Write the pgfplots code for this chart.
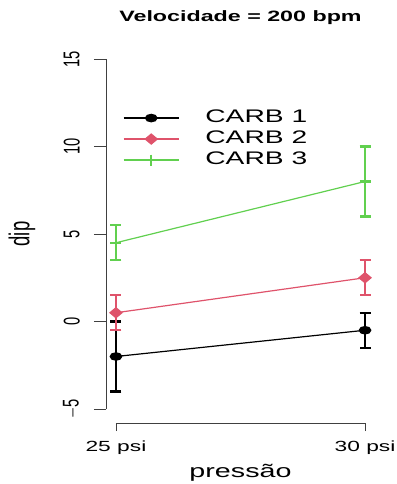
\documentclass[border=0pt]{standalone}
\usepackage{pgfplots}
\pgfplotsset{compat=1.18}
\usepackage{fontspec}
\setmainfont{Liberation Sans}[FakeStretch=1.55]
\newfontfamily\rotfont{Liberation Sans}
\definecolor{rpink}{HTML}{DF536B}
\definecolor{rgreen}{HTML}{61D04F}
\newcommand{\rl}[1]{\scalebox{1}[1.55]{\rotfont\fontsize{14.7}{16}\selectfont #1}}
\begin{document}
\begin{tikzpicture}
\begin{axis}[
  name=ax, at={(0,0)}, anchor=south west,
  scale only axis, width=269pt, height=378pt,
  xmin=24.8, xmax=30.2, ymin=-5.8, ymax=15.8,
  axis x line*=bottom, axis y line*=left,
  axis line style={draw=none},
  xtick={25,30}, xticklabels={25 psi,30 psi},
  ytick={-5,0,5,10,15},
  yticklabels={\rl{$-$5},\rl{0},\rl{5},\rl{10},\rl{15}},
  tick align=outside,
  xtick style={black!75, line width=0.8pt, /pgfplots/major tick length=8pt},
  ytick style={black!75, line width=0.8pt, /pgfplots/major tick length=12pt},
  xticklabel style={font=\fontsize{14.7}{16}\selectfont, anchor=center, yshift=-20pt},
  yticklabel style={anchor=center, xshift=-30pt, rotate=90},
  /pgf/number format/assume math mode=true,
  title={Velocidade = 200 bpm},
  title style={font=\bfseries\fontsize{15}{16}\selectfont, at={(0.5,1)}, anchor=center, yshift=21pt},
  xlabel={pressão},
  xlabel style={font=\fontsize{18.5}{20}\selectfont, at={(0.5,0)}, anchor=center, yshift=-50pt},
  ylabel={\scalebox{1}[1.55]{\rotfont\fontsize{18.5}{20}\selectfont dip}},
  ylabel style={at={(0,0.5)}, anchor=center, yshift=84pt},
  legend style={draw=none, fill=none, at={(rel axis cs:0.063,0.835)}, anchor=north west,
    inner sep=0pt, row sep=0pt, font=\fontsize{18.2}{20}\selectfont,
    nodes={inner sep=0pt, text height=15pt, text depth=6pt},
    /tikz/every odd column/.append style={column sep=26pt}},
  legend cell align=left,
  legend image code/.code={\draw[mark repeat=2, mark phase=2, #1] plot coordinates {(0pt,0pt) (27.5pt,0pt) (55pt,0pt)};},
]
\addplot[black, line width=1.2pt, mark=*, mark size=3.7pt, mark options={xscale=1.55, solid},
  error bars/.cd, y dir=both, y explicit, error bar style={line width=2.2pt},
  error mark options={rotate=90, mark size=5.5pt, line width=2.2pt}]
  coordinates {(25,-2) +- (0,2) (30,-0.5) +- (0,1)};
\addlegendentry{CARB 1}
\addplot[rpink, line width=1.2pt, mark=diamond*, mark size=5pt, mark options={xscale=1.6, solid},
  error bars/.cd, y dir=both, y explicit, error bar style={line width=2.2pt},
  error mark options={rotate=90, mark size=5.5pt, line width=2.2pt}]
  coordinates {(25,0.5) +- (0,1) (30,2.5) +- (0,1)};
\addlegendentry{CARB 2}
\addplot[rgreen, line width=1.2pt, mark=+, mark size=5.5pt, mark options={line width=2.2pt, solid},
  error bars/.cd, y dir=both, y explicit, error bar style={line width=2.2pt},
  error mark options={rotate=90, mark size=5.5pt, line width=2.2pt}]
  coordinates {(25,4.5) +- (0,1) (30,8) +- (0,2)};
\addlegendentry{CARB 3}
\draw[black!75, line width=0.8pt] (axis cs:25,-5.8) -- (axis cs:30,-5.8);
\draw[black!75, line width=0.8pt] (axis cs:24.8,-5) -- (axis cs:24.8,15);
\end{axis}
\pgfresetboundingbox
\useasboundingbox ([shift={(-106pt,-61pt)}]ax.south west) rectangle ([shift={(22pt,45pt)}]ax.north east);
\end{tikzpicture}
\end{document}
